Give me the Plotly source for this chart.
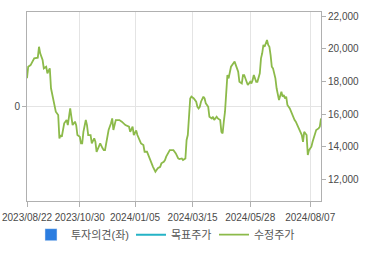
import pandas as pd
import plotly.graph_objects as go

# KRX market holidays in the period
holidays = ["2023-09-28", "2023-09-29", "2023-10-02", "2023-10-03", "2023-10-09",
            "2023-12-25", "2023-12-29", "2024-01-01", "2024-02-09", "2024-02-12",
            "2024-04-10", "2024-05-01", "2024-05-06", "2024-05-15", "2024-06-06",
            "2024-08-15"]
trading_days = [d.strftime("%Y/%m/%d") for d in pd.bdate_range("2023-08-22", "2024-08-21")
                if d.strftime("%Y-%m-%d") not in holidays]

tick_dates = ["2023/08/22", "2023/10/30", "2024/01/05", "2024/03/15", "2024/05/28", "2024/08/07"]
price_ticks = [12000, 14000, 16000, 18000, 20000, 22000]

# trading-session number (0 = 2023/08/22) and adjusted price
price_session = [0, 1, 3, 6, 9, 10, 11, 13, 14, 16, 17, 19, 20, 21, 24, 26, 27, 28, 29, 31,
                 33, 34, 36, 37, 38, 40, 41, 42, 44, 45, 46, 47, 49, 50, 51, 53, 54, 56, 57, 58,
                 60, 61, 63, 64, 65, 67, 68, 70, 71, 72, 74, 77, 79, 82, 85, 86, 88, 89, 91, 92,
                 94, 95, 97, 98, 100, 101, 102, 104, 105, 107, 108, 109, 111, 112, 114, 115, 116, 118, 119, 120,
                 122, 123, 124, 126, 127, 129, 130, 132, 133, 134, 135, 136, 137, 139, 141, 142, 143, 144, 145, 147,
                 148, 149, 151, 152, 154, 155, 156, 158, 159, 161, 162, 163, 164, 165, 166, 167, 168, 169, 170, 172,
                 173, 175, 176, 177, 179, 180, 181, 183, 184, 186, 187, 188, 189, 191, 192, 194, 195, 196, 197, 198,
                 200, 201, 202, 203, 204, 205, 206, 207, 208, 209, 210, 212, 213, 214, 215, 216, 217, 219, 220, 222,
                 223, 224, 226, 227, 229, 230, 231, 233, 234, 235, 237, 238, 240, 241, 243, 244, 245]
price = [18200, 18900, 19000, 19410, 19450, 20120, 19720, 19310, 18800, 18900, 18500, 18800, 17580, 17270, 16150, 15950, 14520, 14720, 14620, 15440,
         15640, 15330, 16350, 15840, 15330, 15540, 15330, 14720, 14620, 14210, 14210, 14920, 15640, 15330, 14720, 14720, 14210, 14520, 14310, 13700,
         14110, 14210, 13910, 13800, 13800, 14520, 15030, 15440, 15740, 15030, 15640, 15640, 15540, 15330, 15230, 14920, 15230, 14720, 15000, 14720,
         14420, 14210, 14110, 13700, 13700, 13500, 13400, 12990, 12780, 12480, 12580, 12690, 12780, 12990, 13090, 13190, 13400, 13700, 13800, 13800,
         13800, 13700, 13600, 13290, 13250, 13290, 13190, 13290, 14420, 14720, 15740, 16960, 17070, 16960, 16760, 16450, 16350, 16450, 16760, 17070,
         16960, 16660, 16450, 15840, 15740, 15840, 15640, 15840, 15740, 15640, 14920, 14820, 15540, 16150, 17270, 18390, 18190, 18700, 18900, 19110,
         19210, 18800, 18590, 17980, 17880, 18390, 18390, 17980, 17780, 17980, 17880, 18080, 18390, 17980, 17980, 18500, 19410, 19720, 20230, 20120,
         20530, 20230, 20120, 19610, 18900, 18800, 18500, 18190, 17580, 17070, 16860, 17370, 17070, 17170, 16960, 17070, 16560, 16350, 16150, 15840,
         15640, 15540, 15230, 15030, 14720, 14310, 14920, 14720, 13500, 13800, 14010, 14310, 14920, 15030, 15130, 15230, 15740]

price_dates = [trading_days[i] for i in price_session]

AXIS = "#b0b0b0"
GRID = "#e4e4e4"
TXT = "#4a4a4a"

fig = go.Figure()
fig.add_trace(go.Bar(x=[None], y=[None], name="투자의견(좌)", marker_color="#2b7de0",
                     yaxis="y", legendwidth=55))
fig.add_trace(go.Scatter(x=[None], y=[None], name="목표주가", mode="lines",
                         line=dict(color="#25b3c6", width=2), yaxis="y2", legendwidth=38))
fig.add_trace(go.Scatter(x=price_dates, y=price, name="수정주가", mode="lines",
                         line=dict(color="#8cba4a", width=1.8), yaxis="y2"))

fig.update_layout(
    width=370, height=255,
    margin=dict(l=27, r=49, t=12, b=54, autoexpand=False),
    paper_bgcolor="white", plot_bgcolor="white",
    font=dict(family="Liberation Sans, Noto Sans CJK KR, sans-serif", size=10, color=TXT),
    showlegend=True,
    legend=dict(orientation="h", x=0.0136, y=-0.178, xanchor="left", yanchor="middle",
                font=dict(size=11, color="#555555"), itemwidth=30,
                bgcolor="rgba(0,0,0,0)"),
    xaxis=dict(type="category", categoryorder="array", categoryarray=trading_days,
               range=[0, len(trading_days) - 1],
               tickmode="array", tickvals=tick_dates, ticktext=tick_dates, tickangle=0,
               showgrid=True, gridcolor=GRID, gridwidth=1,
               showline=True, linecolor=AXIS, linewidth=1, mirror=True,
               ticks="outside", ticklen=5, tickcolor=AXIS, ticklabelstandoff=2),
    yaxis=dict(range=[-1, 1], tickmode="array", tickvals=[0], ticktext=["0"],
               showgrid=True, gridcolor=GRID, zeroline=False,
               showline=True, linecolor=AXIS, linewidth=1,
               ticks="outside", ticklen=4, tickcolor=AXIS, fixedrange=True),
    yaxis2=dict(overlaying="y", side="right", range=[10690, 22245],
                tickmode="array", tickvals=price_ticks, tickformat=",d",
                showgrid=False, zeroline=False,
                showline=True, linecolor=AXIS, linewidth=1,
                ticks="outside", ticklen=4, tickcolor=AXIS),
)

fig.write_html("out.html")
